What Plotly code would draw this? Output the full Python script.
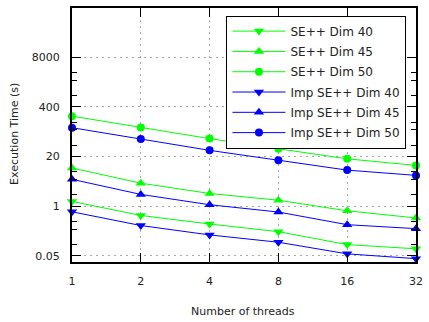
import plotly.graph_objects as go

threads = [1, 2, 4, 8, 16, 32]
se_dim40 = [1.33, 0.57, 0.34, 0.214, 0.098, 0.076]
se_dim45 = [10.0, 4.0, 2.15, 1.43, 0.755, 0.49]
se_dim50 = [229, 116, 59, 32, 17.4, 11.7]
imp_dim40 = [0.71, 0.31, 0.176, 0.113, 0.056, 0.042]
imp_dim45 = [5.05, 2.03, 1.09, 0.70, 0.326, 0.257]
imp_dim50 = [114, 58, 29, 16, 8.8, 6.4]

x_ticks = [1, 2, 4, 8, 16, 32]
y_ticks = [0.05, 1, 20, 400, 8000]
y_tick_labels = ["0.05", "1", "20", "400", "8000"]
y_minor = [v * k for v in [0.05, 1, 20, 400] for k in (2, 5, 8)]

GREEN = "#00ff00"
BLUE = "#0000ff"

series = [
    ("SE++ Dim 40", se_dim40, GREEN, "triangle-down", 9),
    ("SE++ Dim 45", se_dim45, GREEN, "triangle-up", 9),
    ("SE++ Dim 50", se_dim50, GREEN, "circle", 8),
    ("Imp SE++ Dim 40", imp_dim40, BLUE, "triangle-down", 9),
    ("Imp SE++ Dim 45", imp_dim45, BLUE, "triangle-up", 9),
    ("Imp SE++ Dim 50", imp_dim50, BLUE, "circle", 8),
]

fig = go.Figure()
for i, (name, vals, col, sym, sz) in enumerate(series):
    fig.add_trace(go.Scatter(
        x=threads, y=vals, name=name, mode="lines+markers",
        line=dict(color=col, width=1),
        marker=dict(symbol=sym, size=sz, color=col),
        cliponaxis=False, legendgroup=f"g{i}",
    ))

FONT = "DejaVu Sans"
GRID = "#a8a8a8"
fig.update_layout(
    width=429, height=322,
    margin=dict(l=72, r=7, t=6, b=60),
    paper_bgcolor="white", plot_bgcolor="white",
    font=dict(family=FONT, size=11, color="#222"),
    showlegend=True,
    legend=dict(
        x=0.449, y=0.97, xanchor="left", yanchor="top",
        bgcolor="white", bordercolor="black", borderwidth=1,
        font=dict(family=FONT, size=12, color="#222"),
        itemwidth=53, tracegroupgap=1.3,
    ),
    xaxis=dict(
        type="log", range=[0, 1.50515],
        tickmode="array", tickvals=x_ticks, ticktext=[str(t) for t in x_ticks],
        ticks="inside", ticklen=9, tickwidth=1, tickcolor="black",
        showline=True, linecolor="black", linewidth=2, mirror="ticks",
        showgrid=True, gridcolor=GRID, griddash="2px,4px", gridwidth=1,
        zeroline=False, ticklabelstandoff=8,
    ),
    yaxis=dict(
        type="log", range=[-1.465, 5.196],
        tickmode="array", tickvals=y_ticks, ticktext=y_tick_labels,
        ticks="inside", ticklen=9, tickwidth=1, tickcolor="black",
        showline=True, linecolor="black", linewidth=2, mirror="ticks",
        showgrid=True, gridcolor=GRID, griddash="2px,4px", gridwidth=1,
        zeroline=False, ticklabelstandoff=8,
        minor=dict(tickmode="array", tickvals=y_minor, ticks="inside",
                   ticklen=5, tickwidth=1, tickcolor="black", showgrid=False),
    ),
    annotations=[
        dict(text="Number of threads", xref="paper", yref="paper",
             x=0.497, y=-0.194, xanchor="center", yanchor="middle",
             showarrow=False, font=dict(family=FONT, size=11, color="#222")),
        dict(text="Execution Time (s)", xref="paper", yref="paper",
             x=-0.166, y=0.504, xanchor="center", yanchor="middle",
             textangle=-90, showarrow=False,
             font=dict(family=FONT, size=11, color="#222")),
    ],
)

post = "document.body.style.margin='0';document.body.style.overflow='hidden';"

fig.write_html("out.html", config={"displayModeBar": False}, post_script=post)
